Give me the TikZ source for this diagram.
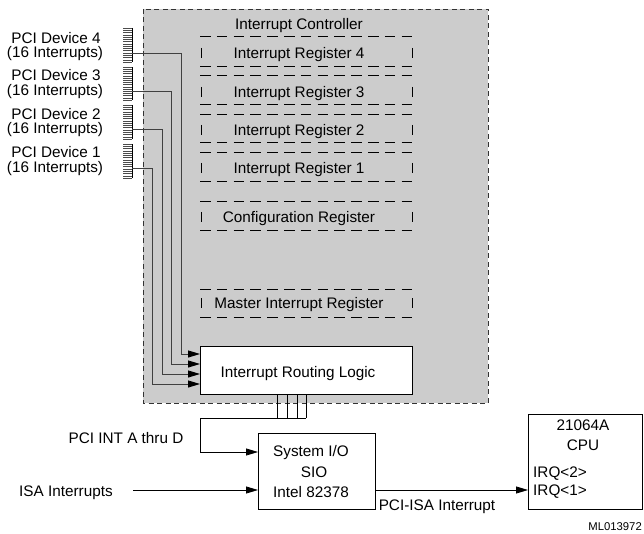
\documentclass[tikz,border=0pt]{standalone}
\usepackage{fontspec}
\setmainfont{Liberation Sans}
\usetikzlibrary{arrows.meta}
\begin{document}
\begin{tikzpicture}[x=1pt,y=-1pt,
  lbl/.style={font=\fontsize{15.3}{17}\selectfont, inner sep=0pt, text height=10.9pt, text depth=0pt},
  small/.style={font=\fontsize{11.3}{13}\selectfont, inner sep=0pt, text height=8pt, text depth=0pt},
  arr/.style={-{Triangle[length=12pt,width=7pt,color=black]}},
  wire/.style={line width=0.9pt, black!75},
  regdash/.style={line width=1pt, dash pattern=on 10.6pt off 6.2pt},
  regside/.style={line width=1pt},
  solidbox/.style={draw, line width=1.1pt, fill=white, inner sep=0pt},
]
\useasboundingbox (0,0) rectangle (644,534);
% outer controller
\draw[fill=black!20, draw=black!80, dash pattern=on 5pt off 3.5pt, line width=0.9pt] (143,9) rectangle (488,403);
\node[lbl] (ic) at (299,24) {Interrupt Controller};
% registers
\foreach \t/\b/\m/\txt/\nm in {37/67/53/Interrupt Register 4/r4, 76/105/92/Interrupt Register 3/r3, 115/143/130/Interrupt Register 2/r2, 153/182/168/Interrupt Register 1/r1, 202/231/217/Configuration Register/cfg, 289/317/303/Master Interrupt Register/mir}{
  \draw[regdash] (200,\t) -- (413,\t);
  \draw[regdash] (200,\b) -- (413,\b);
  \draw[regside] (201,\m-5) -- (201,\m+5);
  \draw[regside] (412,\m-5) -- (412,\m+5);
  \node[lbl] (\nm) at (299,\m) {\txt};
}
% routing logic
\node[solidbox, minimum width=212pt, minimum height=48pt, anchor=north west] (rl) at (200,346) {};
\node[lbl] (rlt) at (298,372) {Interrupt Routing Logic};
% PCI device labels and combs
\foreach \k/\yla/\ylb in {4/38/52, 3/75/90, 2/114/128, 1/152/167}{
  \node[lbl] (d\k a) at (56,\yla) {PCI Device \k};
  \node[lbl] (d\k b) at (55,\ylb) {(16 Interrupts)};
}
\foreach \k/\ct/\cb in {4/28/62, 3/67/100, 2/105/139, 1/144/178}{
  \draw[line width=0.8pt] (132,\ct) -- (132,\cb);
  \foreach \i in {0,...,15}{
    \draw[line width=0.4pt, black!70] (123,{\ct+\i*(\cb-\ct)/15}) -- (132,{\ct+\i*(\cb-\ct)/15});
  }
}
\foreach \k/\yw/\dx/\yi in {4/53/49/354, 3/91/39/364, 2/129/30/374, 1/168/20/384}{
  \coordinate (comb\k) at (132,\yw);
  \coordinate (in\k) at (200,\yi);
  \draw[wire, arr] (comb\k) -- ++(\dx,0) |- (in\k);
}
% bus to SIO
\foreach \i/\x in {1/277,2/287,3/297,4/306}{
  \coordinate (bt\i) at (\x,394);
  \coordinate (bb\i) at (\x,418);
  \draw[line width=0.8pt] (bt\i) -- (bb\i);
}
% SIO
\node[solidbox, minimum width=117pt, minimum height=76pt, anchor=north west] (sio) at (258,433) {};
\node[lbl] (sio1) at (311,451) {System I/O};
\node[lbl] (sio2) at (314,472) {SIO};
\node[lbl] (sio3) at (311,492) {Intel 82378};
\coordinate (sioin1) at (258,452);
\coordinate (sioin2) at (258,490);
\coordinate (sioout) at (375,490);
\draw[arr, line width=0.8pt] (bb4) -- ++(-106,0) |- (sioin1);
\node[lbl] (pciint) at (126,438) {PCI INT A thru D};
% ISA
\node[lbl] (isa) at (66,491) {ISA Interrupts};
\coordinate (isastart) at (133,490);
\draw[arr, line width=0.8pt] (isastart) -- (sioin2);
% CPU
\node[solidbox, minimum width=114pt, minimum height=95pt, anchor=north west] (cpu) at (528,414) {};
\node[lbl] (cpu1) at (583,425) {21064A};
\node[lbl] (cpu2) at (583,445) {CPU};
\node[lbl, anchor=west] (irq2) at (533,472) {IRQ<2>};
\node[lbl, anchor=west] (irq1) at (533,490) {IRQ<1>};
\coordinate (cpuin) at (528,490);
\draw[arr, line width=0.8pt] (sioout) -- (cpuin);
\node[lbl] (pciisa) at (437,505) {PCI-ISA Interrupt};
\node[small, anchor=east] (ml) at (642,526) {ML013972};
\end{tikzpicture}
\end{document}
